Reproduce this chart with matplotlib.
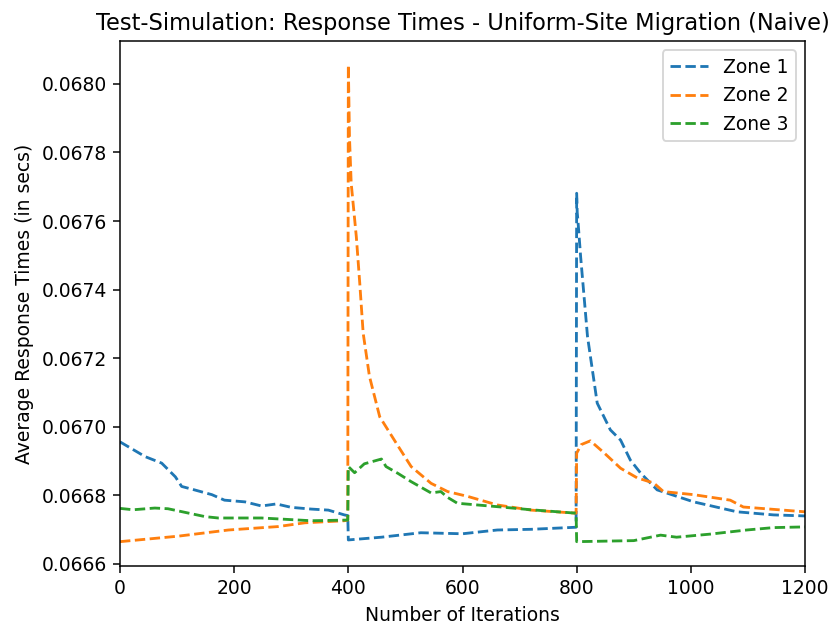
import matplotlib
matplotlib.use("Agg")
import matplotlib.pyplot as plt
from matplotlib.ticker import MultipleLocator, FormatStrFormatter

zone1_x = [0, 44, 73, 97, 108, 126, 161, 183, 219, 248, 274, 300, 335, 365, 393, 399,
           400, 458, 527, 600, 661, 720, 799,
           800, 801, 802, 807, 819, 836, 859, 877, 894, 912, 941, 1005, 1081, 1145, 1200]
zone1_y = [0.066956, 0.066913, 0.066894, 0.066854, 0.066826, 0.066818, 0.066802, 0.066786,
           0.066781, 0.066769, 0.066775, 0.066765, 0.066760, 0.066757, 0.066743, 0.066741,
           0.066670, 0.066678, 0.066691, 0.066688, 0.066699, 0.066701, 0.066707,
           0.067681, 0.067623, 0.067606, 0.067495, 0.067263, 0.067069, 0.066991, 0.066961,
           0.066903, 0.066865, 0.066816, 0.066781, 0.066752, 0.066743, 0.066740]

zone2_x = [0, 102, 190, 277, 324, 393, 399,
           400, 402, 405, 414, 420, 426, 437, 455, 484, 510, 545, 574, 609, 661, 720, 799,
           800, 808, 824, 848, 877, 906, 935, 952, 1005, 1069, 1092, 1200]
zone2_y = [0.066665, 0.066681, 0.066699, 0.066709, 0.066720, 0.066726, 0.066728,
           0.068055, 0.067845, 0.067710, 0.067554, 0.067419, 0.067273, 0.067147, 0.067029,
           0.066952, 0.066884, 0.066835, 0.066811, 0.066797, 0.066772, 0.066757, 0.066748,
           0.066923, 0.066948, 0.066959, 0.066924, 0.066879, 0.066851, 0.066836, 0.066811,
           0.066802, 0.066786, 0.066766, 0.066752]

zone3_x = [0, 23, 61, 84, 149, 172, 248, 335, 399,
           400, 411, 428, 458, 466, 487, 510, 545, 562, 574, 591, 661, 720, 799,
           800, 900, 947, 975, 1034, 1098, 1145, 1200]
zone3_y = [0.066762, 0.066758, 0.066763, 0.066761, 0.066738, 0.066734, 0.066734, 0.066726,
           0.066728,
           0.066884, 0.066866, 0.066892, 0.066906, 0.066884, 0.066864, 0.066840, 0.066807,
           0.066811, 0.066794, 0.066777, 0.066767, 0.066758, 0.066748,
           0.066665, 0.066668, 0.066684, 0.066678, 0.066687, 0.066699, 0.066706, 0.066708]

labels = ["Zone 1", "Zone 2", "Zone 3"]

DPI = 135
fig = plt.figure(figsize=(837 / DPI, 628 / DPI), dpi=DPI)
ax = fig.add_axes([120 / 837, 1 - 566 / 628, (805 - 120) / 837, (566 - 41) / 628])

ax.plot(zone1_x, zone1_y, "--", label=labels[0])
ax.plot(zone2_x, zone2_y, "--", label=labels[1])
ax.plot(zone3_x, zone3_y, "--", label=labels[2])

ax.set_xlim(0, 1200)
ax.set_ylim(0.066594, 0.068125)
ax.yaxis.set_major_locator(MultipleLocator(0.0002))
ax.yaxis.set_major_formatter(FormatStrFormatter("%.4f"))
ax.set_xlabel("Number of Iterations")
ax.set_ylabel("Average Response Times (in secs)")
ax.set_title("Test-Simulation: Response Times - Uniform-Site Migration (Naive)")
ax.legend(loc="upper right")

fig.savefig("out.png", dpi=DPI)
